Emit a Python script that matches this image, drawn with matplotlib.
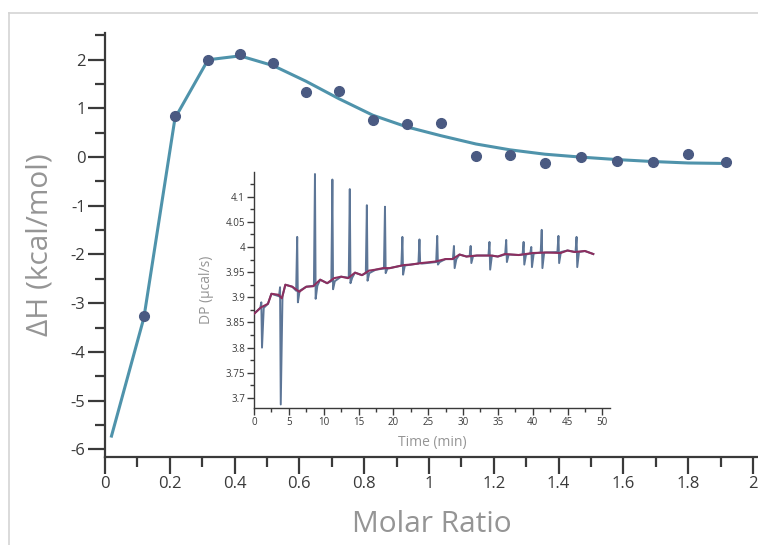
import matplotlib
matplotlib.use("Agg")
import matplotlib.pyplot as plt
from matplotlib.ticker import MultipleLocator, FixedLocator, FixedFormatter
from matplotlib.lines import Line2D

plt.rcParams['font.family'] = ['Open Sans', 'DejaVu Sans']
plt.rcParams['axes.unicode_minus'] = False

# ---- main isotherm data ----
molar_ratio = [0.12, 0.216, 0.318, 0.417, 0.519, 0.62, 0.722, 0.827, 0.932, 1.037,
               1.145, 1.25, 1.358, 1.47, 1.58, 1.69, 1.80, 1.917]
dH = [-3.27, 0.84, 1.99, 2.11, 1.93, 1.33, 1.36, 0.76, 0.68, 0.70,
      0.02, 0.04, -0.12, 0.0, -0.08, -0.10, 0.06, -0.10]

fit_x = [0.02, 0.12, 0.216, 0.318, 0.417, 0.519, 0.62, 0.722, 0.827, 0.932, 1.037,
         1.145, 1.25, 1.358, 1.47, 1.58, 1.69, 1.80, 1.917]
fit_y = [-5.73, -3.3, 0.80, 2.0, 2.08, 1.88, 1.56, 1.2, 0.86, 0.62, 0.44,
         0.27, 0.15, 0.06, 0.0, -0.05, -0.09, -0.12, -0.13]

# ---- inset raw thermogram ----
base_t = [0, 1, 2, 2.5, 3.5, 4, 4.5, 5.5, 6.5, 7.5, 8.5, 9.5, 10.5, 11.5, 12.5, 13.5,
          14.5, 15.5, 16.5, 17.5, 18.5, 19.5, 20.5, 21.5, 22.5, 24, 26, 27.5, 28.5,
          29.5, 30.5, 32, 34, 35, 36, 38, 40, 42, 44, 45, 46, 47.5, 48.7]
base_dp = [3.867, 3.88, 3.887, 3.907, 3.905, 3.898, 3.925, 3.921, 3.911, 3.921, 3.922,
           3.935, 3.928, 3.938, 3.941, 3.938, 3.949, 3.944, 3.953, 3.955, 3.958, 3.958,
           3.961, 3.964, 3.965, 3.968, 3.971, 3.976, 3.976, 3.985, 3.981, 3.983, 3.983,
           3.981, 3.986, 3.984, 3.988, 3.989, 3.988, 3.993, 3.990, 3.992, 3.986]

# injection spikes: time, local baseline, peak, trough
inj_t = [1.05, 3.74, 6.2, 8.75, 11.25, 13.75, 16.2, 18.8, 21.3, 23.75, 26.3, 28.7,
         31.1, 33.8, 36.2, 38.7, 39.8, 41.3, 43.7, 46.3]
inj_base = [3.879, 3.902, 3.913, 3.923, 3.932, 3.939, 3.948, 3.957, 3.963, 3.967, 3.970,
            3.976, 3.982, 3.983, 3.985, 3.985, 3.987, 3.989, 3.990, 3.990]
inj_hi = [3.89, 3.92, 4.02, 4.145, 4.134, 4.115, 4.083, 4.08, 4.02, 4.015, 4.022,
          4.002, 4.002, 4.01, 4.014, 4.01, 4.0, 4.034, 4.022, 4.02]
inj_lo = [3.80, 3.687, 3.89, 3.897, 3.916, 3.928, 3.933, 3.948, 3.945, 3.968, 3.965,
          3.958, 3.968, 3.955, 3.97, 3.965, 3.96, 3.958, 3.968, 3.96]

LINE_C = '#4f93ab'
DOT_C = '#4a5a82'
RAW_C = '#5d7697'
BASE_C = '#8c2f5f'
TICK_C = '#3a3a3a'
LABEL_C = '#959595'

fig = plt.figure(figsize=(7.58, 5.45), dpi=100)

# frame lines of the screenshot
fig.add_artist(Line2D([9/758, 1], [1-13/545, 1-13/545], color='#d4d4d4', lw=1.2, transform=fig.transFigure))
fig.add_artist(Line2D([9/758, 9/758], [0, 1-13/545], color='#d4d4d4', lw=1.2, transform=fig.transFigure))

ax = fig.add_axes([105/758, (545-457)/545, (758-105)/758, (457-33)/545])
ax.plot(fit_x, fit_y, color=LINE_C, lw=2.2, zorder=2)
ax.plot(molar_ratio, dH, 'o', color=DOT_C, ms=7, zorder=3)
ax.set_xlim(0, (758-105)/324)
ax.set_ylim(-6.16, 2.55)
for s in ['top', 'right']:
    ax.spines[s].set_visible(False)
for s in ['left', 'bottom']:
    ax.spines[s].set_color(TICK_C)
    ax.spines[s].set_linewidth(1.6)
ax.xaxis.set_major_locator(FixedLocator([0, 0.2, 0.4, 0.6, 0.8, 1, 1.2, 1.4, 1.6, 1.8, 2]))
ax.xaxis.set_major_formatter(FixedFormatter(['0', '0.2', '0.4', '0.6', '0.8', '1', '1.2', '1.4', '1.6', '1.8', '2']))
ax.xaxis.set_minor_locator(MultipleLocator(0.1))
ax.yaxis.set_major_locator(MultipleLocator(1))
ax.yaxis.set_minor_locator(MultipleLocator(0.5))
ax.tick_params(which='major', direction='out', length=12, width=1.6, color=TICK_C,
               labelcolor=TICK_C, labelsize=12, pad=2)
ax.tick_params(which='minor', direction='out', length=7, width=1.6, color=TICK_C)
ax.set_xlabel('Molar Ratio', fontsize=21.5, color=LABEL_C, labelpad=13)
ax.set_ylabel('ΔH (kcal/mol)', fontsize=21.5, color=LABEL_C, labelpad=12)
ax.patch.set_alpha(0)

# ---- inset ----
raw = sorted([(t, d) for t, d in zip(base_t, base_dp)
              if all(abs(t - ti) > 0.4 for ti in inj_t)] +
             [(t - 0.15, b) for t, b in zip(inj_t, inj_base)] +
             [(t, h) for t, h in zip(inj_t, inj_hi)] +
             [(t + 0.1, l) for t, l in zip(inj_t, inj_lo)] +
             [(t + 0.35, b) for t, b in zip(inj_t, inj_base)])
raw_t = [p[0] for p in raw]
raw_dp = [p[1] for p in raw]

ia = fig.add_axes([254/758, (545-408)/545, (610-254)/758, (408-172)/545])
ia.plot(raw_t, raw_dp, color=RAW_C, lw=1.4, zorder=2)
ia.plot(base_t, base_dp, color=BASE_C, lw=1.5, zorder=3)
ia.set_xlim(0, 51.1)
ia.set_ylim(3.68, 4.149)
for s in ['top', 'right']:
    ia.spines[s].set_visible(False)
for s in ['left', 'bottom']:
    ia.spines[s].set_color(TICK_C)
    ia.spines[s].set_linewidth(1.0)
ia.xaxis.set_major_locator(MultipleLocator(5))
ia.xaxis.set_minor_locator(MultipleLocator(2.5))
ia.yaxis.set_major_locator(FixedLocator([3.7, 3.75, 3.8, 3.85, 3.9, 3.95, 4.0, 4.05, 4.1]))
ia.yaxis.set_major_formatter(FixedFormatter(['3.7', '3.75', '3.8', '3.85', '3.9', '3.95', '4', '4.05', '4.1']))
ia.yaxis.set_minor_locator(MultipleLocator(0.025))
ia.tick_params(which='major', direction='out', length=5, width=1.0, color=TICK_C,
               labelcolor=TICK_C, labelsize=7, pad=1.5)
ia.tick_params(which='minor', direction='out', length=3, width=1.0, color=TICK_C)
ia.set_xlabel('Time (min)', fontsize=10, color=LABEL_C, labelpad=5)
ia.set_ylabel('DP (µcal/s)', fontsize=10, color=LABEL_C, labelpad=8)
ia.patch.set_alpha(0)

fig.savefig('out.png', dpi=100)
